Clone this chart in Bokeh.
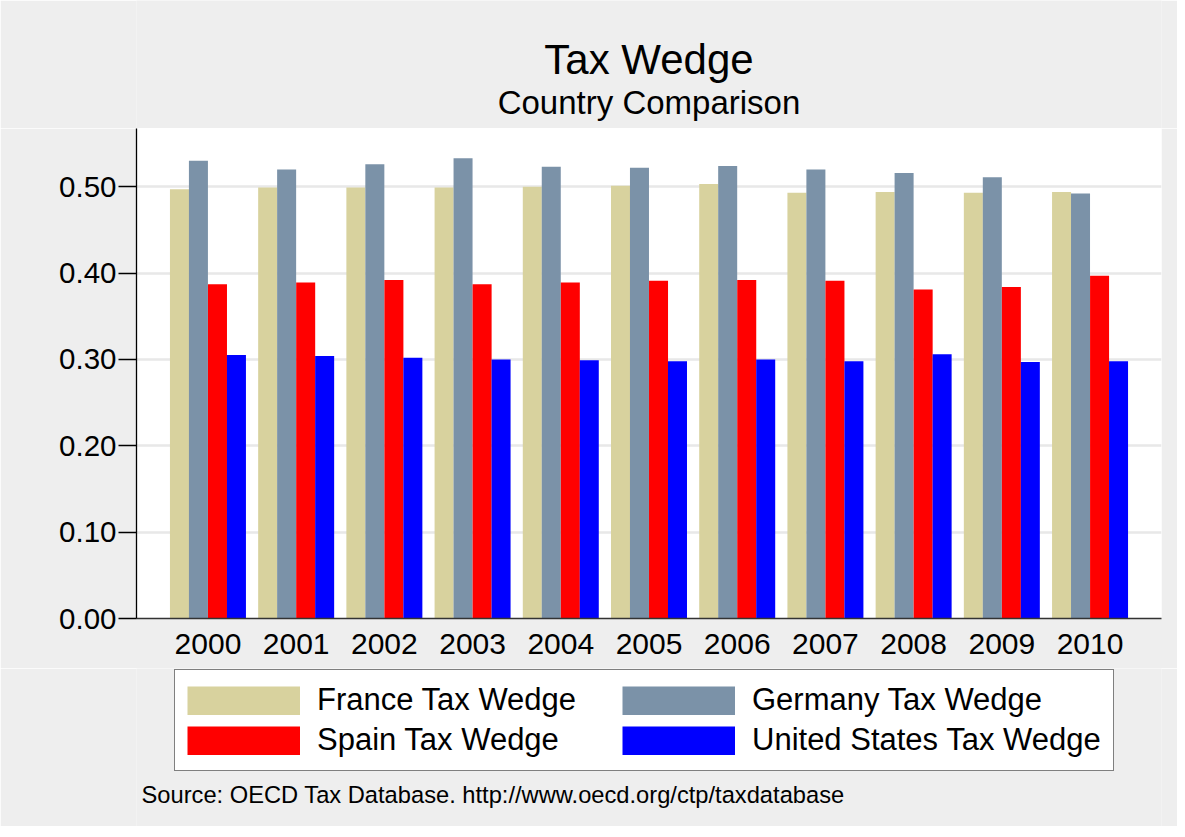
from bokeh.plotting import figure
from bokeh.layouts import column
from bokeh.models import (ColumnDataSource, Range1d, FixedTicker, NumeralTickFormatter,
                          Legend, LegendItem, Label)
from bokeh.transform import dodge
from bokeh.embed import file_html
from bokeh.resources import INLINE

# ---------------- data ----------------
years = [2000, 2001, 2002, 2003, 2004, 2005, 2006, 2007, 2008, 2009, 2010]
year_labels = ["2000", "2001", "2002", "2003", "2004", "2005", "2006", "2007", "2008", "2009", "2010"]
france = [0.497, 0.499, 0.499, 0.499, 0.500, 0.501, 0.503, 0.493, 0.494, 0.493, 0.494]
germany = [0.530, 0.520, 0.526, 0.533, 0.523, 0.522, 0.524, 0.520, 0.516, 0.511, 0.492]
spain = [0.387, 0.389, 0.392, 0.387, 0.389, 0.391, 0.392, 0.391, 0.381, 0.384, 0.397]
united_states = [0.305, 0.304, 0.302, 0.300, 0.299, 0.298, 0.300, 0.298, 0.306, 0.297, 0.298]
series_names = ["France Tax Wedge", "Germany Tax Wedge", "Spain Tax Wedge", "United States Tax Wedge"]
y_ticks = [0.0, 0.1, 0.2, 0.3, 0.4, 0.5]
title_text = "Tax Wedge"
subtitle_text = "Country Comparison"
source_text = "Source: OECD Tax Database.  http://www.oecd.org/ctp/taxdatabase"

# ---------------- layout constants ----------------
W = 1177
H_TOP, H_MAIN, H_BOT = 128, 540, 158
BL, BR, BB = 136, 16, 50
FRAME_L, FRAME_R = BL, W - BR
X0, X1 = 1999.19, 2010.81
Y0, Y1 = 0.0, 0.5674
FONT = "Liberation Sans"
BG = "#EEEEEE"
colors = ["#D8D29E", "#7B92A8", "#FF0000", "#0000FF"]
bar_w = 0.2155
offsets = [-0.323, -0.108, 0.108, 0.323]
frame_center = (FRAME_L + FRAME_R) / 2
MID = 0.3465  # distance from em-box middle to alphabetic baseline, in em


def blank_fig(h, y_top):
    # panel whose frame is aligned with the main chart frame; data units = page pixels
    f = figure(width=W, height=h, output_backend="svg", toolbar_location=None,
               x_range=Range1d(FRAME_L, FRAME_R), y_range=Range1d(y_top + h, y_top),
               x_axis_type=None, y_axis_type=None,
               min_border_left=BL, min_border_right=BR, min_border_top=0, min_border_bottom=0)
    f.title = None
    f.grid.visible = False
    f.outline_line_color = None
    f.background_fill_color = BG
    f.border_fill_color = BG
    return f


def text_label(x, baseline, text, size, align):
    return Label(x=x, y=baseline - MID * size, text=text, text_align=align,
                 text_baseline="middle", text_font=FONT, text_font_size=f"{size}px",
                 text_color="black")


# ---------------- title panel ----------------
top = blank_fig(H_TOP, 0)
top.add_layout(text_label(frame_center, 73.3, title_text, 42, "center"))
top.add_layout(text_label(frame_center, 113.3, subtitle_text, 33, "center"))

# ---------------- main bar chart ----------------
src = ColumnDataSource(dict(year=years, france=france, germany=germany,
                            spain=spain, us=united_states))

p = figure(width=W, height=H_MAIN, output_backend="svg", toolbar_location=None,
           x_range=Range1d(X0, X1), y_range=Range1d(Y0, Y1),
           min_border_left=BL, min_border_right=BR, min_border_top=0, min_border_bottom=BB)
p.title = None
p.border_fill_color = BG
p.background_fill_color = "#FFFFFF"
p.outline_line_color = None

for col, c, off in zip(["france", "germany", "spain", "us"], colors, offsets):
    p.vbar(x=dodge("year", off), top=col, width=bar_w, bottom=0, source=src,
           fill_color=c, line_color=None)

yax = p.yaxis[0]
yax.ticker = FixedTicker(ticks=y_ticks)
yax.formatter = NumeralTickFormatter(format="0.00")
yax.axis_line_color = "black"
yax.axis_line_width = 1.3
yax.major_tick_line_color = "black"
yax.major_tick_line_width = 1.3
yax.major_tick_out = 18
yax.major_tick_in = 0
yax.minor_tick_line_color = None
yax.major_label_standoff = 2
yax.major_label_text_font = FONT
yax.major_label_text_font_size = "29.5px"
yax.major_label_text_color = "black"

xax = p.xaxis[0]
xax.ticker = FixedTicker(ticks=years)
xax.major_label_overrides = {y: lab for y, lab in zip(years, year_labels)}
xax.axis_line_color = "#333333"
xax.axis_line_width = 1.6
xax.major_tick_line_color = None
xax.major_tick_out = 0
xax.major_tick_in = 0
xax.minor_tick_line_color = None
xax.major_label_standoff = 15
xax.major_label_text_font = FONT
xax.major_label_text_font_size = "30px"
xax.major_label_text_color = "black"

p.xgrid.grid_line_color = None
p.ygrid.ticker = FixedTicker(ticks=y_ticks)
p.ygrid.grid_line_color = "#E8E8E8"
p.ygrid.grid_line_width = 2.5

# ---------------- legend + source panel ----------------
bot = blank_fig(H_BOT, H_TOP + H_MAIN)
# swatch renderers: their single segment lies far outside the panel, only the legend glyph shows
off_src = ColumnDataSource(dict(x=[-1.0e6, -0.9e6], y=[-1.0e6, -1.0e6]))
swatches = [bot.line(x="x", y="y", source=off_src, line_color=c, line_width=29, line_cap="butt")
            for c in colors]
items = [LegendItem(label=n, renderers=[s]) for n, s in zip(series_names, swatches)]
legend = Legend(items=items, orientation="horizontal", ncols=2, location=(38, 55),
                glyph_width=113, glyph_height=29, label_standoff=17, spacing=4,
                padding=12, margin=0, label_width=301,
                label_text_font=FONT, label_text_font_size="31px", label_text_color="black",
                border_line_color="black", border_line_width=1.5,
                background_fill_color="white", background_fill_alpha=1.0)
bot.add_layout(legend, "center")
bot.add_layout(text_label(141.0, 802.3, source_text, 23.7, "left"))

layout = column(top, p, bot, spacing=0)
open("out.html", "w").write(file_html(layout, INLINE))
